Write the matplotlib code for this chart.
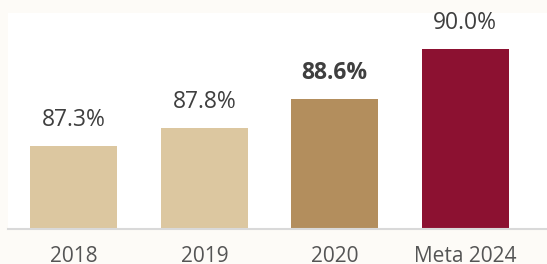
import matplotlib.pyplot as plt

FONT = ["Open Sans", "DejaVu Sans"]

categories = ["2018", "2019", "2020", "Meta 2024"]
values = [87.3, 87.8, 88.6, 90.0]
labels = ["87.3%", "87.8%", "88.6%", "90.0%"]
bold = [False, False, True, False]
colors = ["#dcc7a0", "#dcc7a0", "#b38e5d", "#8c1131"]

W, H = 547, 264
fig = plt.figure(figsize=(W / 100, H / 100), dpi=100, facecolor="#fdfbf7")
ax = fig.add_axes([8 / W, (H - 228.7) / H, (W - 8) / W, (228.7 - 13) / H])
ax.set_facecolor("white")

x = list(range(len(categories)))
ax.bar(x, values, width=0.667, color=colors, zorder=2)

for xi, v, lab, b in zip(x, values, labels, bold):
    ax.annotate(
        lab,
        (xi, v),
        xytext=(0, 10),
        textcoords="offset points",
        ha="center",
        va="bottom",
        fontsize=16.5,
        fontweight="bold" if b else "normal",
        color="#3f3f3f",
        family=FONT,
    )

ax.set_xlim(-0.506, 3.628)
ax.set_ylim(85, 91)
ax.set_yticks([])
ax.set_xticks(x)
ax.set_xticklabels(categories, fontsize=15, color="#555555", family=FONT)
ax.tick_params(axis="x", length=0, pad=12.5)

for s in ["top", "right", "left"]:
    ax.spines[s].set_visible(False)
ax.spines["bottom"].set_color("#d9d9d9")
ax.spines["bottom"].set_linewidth(1.5)

fig.savefig("out.png", dpi=100, facecolor=fig.get_facecolor())
